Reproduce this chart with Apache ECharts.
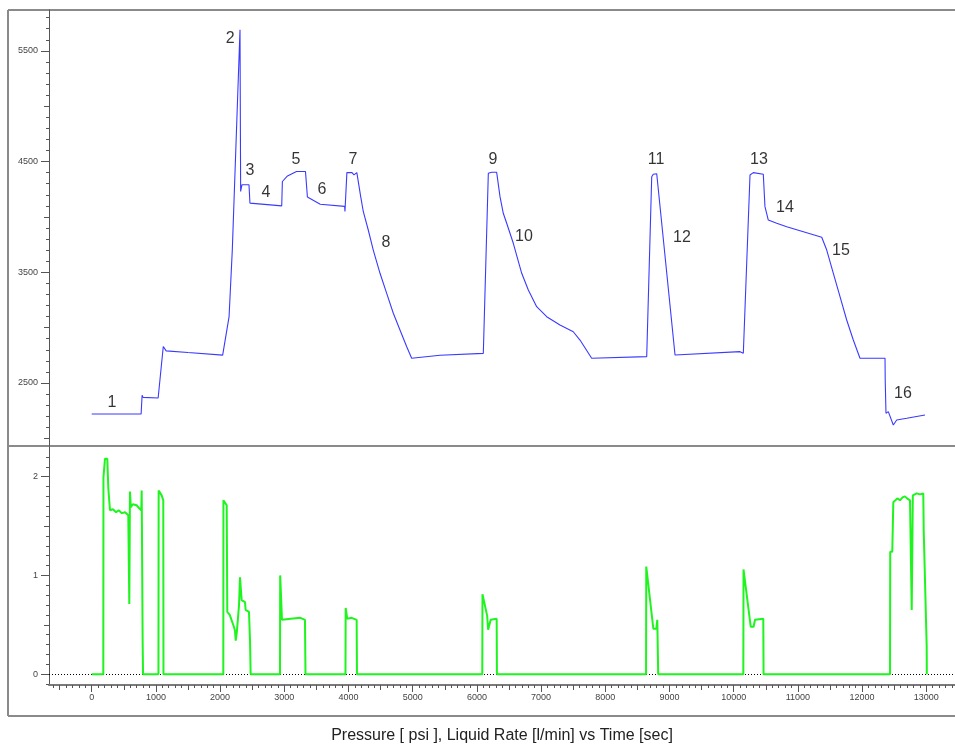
<!DOCTYPE html>
<html>
<head>
<meta charset="utf-8">
<script src="https://cdn.jsdelivr.net/npm/echarts@6/dist/echarts.min.js"></script>
<style>
html,body{margin:0;padding:0;background:#fff;}
#chart{width:955px;height:746px;}
</style>
</head>
<body>
<div id="chart"></div>
<script>
// ---- Pressure [psi] vs time [sec] ----
const pressureT = [0,770,785,800,1035,1115,1160,1500,2040,2050,2140,2190,2310,2320,2340,2450,2465,2960,2970,3050,3190,3330,3360,3560,3940,3945,3975,4055,4085,4130,4153,4190,4231,4308,4386,4491,4595,4698,4802,4907,4984,5425,6100,6178,6230,6308,6360,6411,6464,6567,6698,6801,6931,7087,7294,7501,7606,7788,8645,8723,8747,8801,8826,9086,10098,10150,10254,10305,10461,10487,10539,10670,10826,11085,11371,11449,11552,11656,11760,11863,11967,12357,12360,12372,12408,12486,12539,12695,12980];
const pressureP = [2220,2220,2390,2370,2365,2830,2790,2775,2752,2750,3100,3700,5690,4230,4290,4290,4125,4100,4320,4370,4410,4410,4180,4115,4095,4050,4400,4400,4380,4400,4394,4183,4047,3882,3701,3491,3310,3130,2979,2828,2723,2750,2768,4394,4403,4403,4183,4033,3943,3762,3491,3340,3189,3099,3024,2963,2888,2723,2738,4363,4385,4390,4385,2753,2783,2768,4379,4400,4385,4093,3972,3943,3912,3867,3816,3701,3491,3280,3069,2888,2723,2723,2527,2226,2241,2121,2166,2181,2211];

// ---- Liquid rate [l/min] vs time [sec] ----
const rateT = [0,181,183,207,243,259,285,330,380,420,470,520,570,586,596,610,640,700,740,772,779,790,794,800,1040,1043,1090,1115,1118,2050,2052,2103,2112,2150,2180,2215,2232,2243,2260,2284,2295,2310,2336,2388,2398,2450,2466,2476,2933,2936,2964,3100,3250,3322,3330,3953,3956,3981,4050,4127,4132,6084,6087,6160,6175,6200,6215,6308,6312,8635,8638,8748,8795,8810,8821,8824,10150,10153,10265,10310,10332,10461,10465,12435,12438,12470,12486,12512,12550,12590,12630,12668,12700,12746,12770,12773,12790,12850,12900,12953,12960,13006,13008];
const rateQ = [0,0,1.99,2.18,2.18,1.88,1.66,1.67,1.64,1.66,1.63,1.64,1.61,0.71,1.85,1.69,1.72,1.71,1.68,1.66,1.86,1.84,0.30,0,0,1.86,1.81,1.76,0,0,1.76,1.71,0.63,0.60,0.58,0.48,0.44,0.34,0.42,0.43,0.70,0.98,0.75,0.73,0.65,0.63,0.34,0,0,1.00,0.55,0.56,0.57,0.55,0,0,0.67,0.56,0.57,0.55,0,0,0.81,0.59,0.45,0.43,0.55,0.56,0,0,1.09,0.46,0.46,0.55,0.55,0,0,1.06,0.48,0.48,0.55,0.56,0,0,1.24,1.24,1.74,1.76,1.78,1.76,1.79,1.80,1.78,1.76,1.74,0.65,1.81,1.83,1.82,1.83,1.45,0.28,0];

// ---- Stage annotations ----
const stageText = ['1','2','3','4','5','6','7','8','9','10','11','12','13','14','15','16'];
const stageT = [316,2156,2466,2715,3182,3587,4070,4584,6251,6734,8790,9195,10394,10799,11670,12637];
const stageP = [2319,5607,4415,4216,4514,4243,4514,3765,4514,3819,4514,3810,4514,4081,3692,2400];

// ---- Axis ticks / labels ----
const xLabels = [0,1000,2000,3000,4000,5000,6000,7000,8000,9000,10000,11000,12000,13000];
const xMidTicks = [-500,500,1500,2500,3500,4500,5500,6500,7500,8500,9500,10500,11500,12500];
const xMinorTicks = []; for (let v = -600; v <= 13400; v += 100) xMinorTicks.push(v);
const pLabels = [2500,3500,4500,5500];
const pMidTicks = [2000,3000,4000,5000];
const pMinorTicks = []; for (let v = 2000; v <= 5800; v += 100) pMinorTicks.push(v);
const qLabels = [0,1,2];
const qMidTicks = [0.5,1.5];
const qMinorTicks = []; for (let i = -1; i <= 22; i++) qMinorTicks.push(i / 10);

const titleText = 'Pressure [ psi ], Liquid Rate [l/min] vs Time [sec]';

const X_MIN = -665, X_MAX = 13447;
const P_MIN = 1931, P_MAX = 5869;
const Q_MIN = -0.11, Q_MAX = 2.30;

const FONT = '"Liberation Sans", Arial, sans-serif';
const pressureData = pressureT.map((t,i)=>[t, pressureP[i]]);
const rateData = rateT.map((t,i)=>[t, rateQ[i]]);
const stageData = stageT.map((t,i)=>[t, stageP[i], stageText[i]]);

function labelCfg(labels, margin){
  return labels ? {show:true, customValues:labels, fontSize:9, color:'#444', fontFamily:FONT, margin:margin, formatter:(v)=>String(v)} : {show:false};
}
function xAx(grid, ticks, len, labels, line){
  return {
    type:'value', gridIndex:grid, min:X_MIN, max:X_MAX, position:'bottom',
    axisLine:{show:!!line, onZero:false, lineStyle:{color:'#7a7a7a', width:2}},
    axisTick:{show:true, customValues:ticks, length:len, lineStyle:{color:'#555', width:1}},
    axisLabel:labelCfg(labels, 8),
    splitLine:{show:false}
  };
}
function yAx(grid, mn, mx, ticks, len, labels, line){
  return {
    type:'value', gridIndex:grid, min:mn, max:mx, position:'left',
    axisLine:{show:!!line, onZero:false, lineStyle:{color:'#555', width:1}},
    axisTick:{show:true, customValues:ticks, length:len, lineStyle:{color:'#555', width:1}},
    axisLabel:labelCfg(labels, 11),
    splitLine:{show:false}
  };
}

const chart = echarts.init(document.getElementById('chart'), null, {renderer:'canvas'});
chart.setOption({
  animation:false,
  backgroundColor:'#fff',
  grid:[
    {left:49, top:10, width:906, height:436},
    {left:49, top:447, width:906, height:238}
  ],
  xAxis:[
    {type:'value', gridIndex:0, min:X_MIN, max:X_MAX, show:false},
    xAx(1, xLabels, 7, xLabels, true),
    xAx(1, xMidTicks, 5, null, false),
    xAx(1, xMinorTicks, 3, null, false)
  ],
  yAxis:[
    yAx(0, P_MIN, P_MAX, pLabels, 8, pLabels, true),
    yAx(0, P_MIN, P_MAX, pMidTicks, 5, null, false),
    yAx(0, P_MIN, P_MAX, pMinorTicks, 3, null, false),
    yAx(1, Q_MIN, Q_MAX, qLabels, 8, qLabels, true),
    yAx(1, Q_MIN, Q_MAX, qMidTicks, 5, null, false),
    yAx(1, Q_MIN, Q_MAX, qMinorTicks, 3, null, false)
  ],
  graphic:[
    {type:'line', shape:{x1:8,y1:10,x2:955,y2:10}, style:{stroke:'#8a8a8a', lineWidth:2}},
    {type:'line', shape:{x1:8,y1:10,x2:8,y2:716}, style:{stroke:'#8a8a8a', lineWidth:2}},
    {type:'line', shape:{x1:8,y1:446,x2:955,y2:446}, style:{stroke:'#8a8a8a', lineWidth:2}},
    {type:'line', shape:{x1:8,y1:716,x2:955,y2:716}, style:{stroke:'#8a8a8a', lineWidth:2}},
    {type:'text', x:502, y:736, style:{text:titleText, fill:'#222', font:'16px "Liberation Sans", Arial, sans-serif', textAlign:'center', textVerticalAlign:'middle'}}
  ],
  series:[
    {
      name:'Pressure', type:'line', xAxisIndex:0, yAxisIndex:0, data:pressureData,
      showSymbol:false, symbol:'none', lineStyle:{color:'#3a3aff', width:1.1}, z:3
    },
    {
      name:'Stages', type:'scatter', xAxisIndex:0, yAxisIndex:0, data:stageData,
      symbolSize:1, itemStyle:{color:'rgba(0,0,0,0)'}, z:4,
      label:{show:true, position:'inside', formatter:(p)=>p.value[2], fontSize:16, color:'#000', fontFamily:FONT}
    },
    {
      name:'Liquid Rate', type:'line', xAxisIndex:1, yAxisIndex:3, data:rateData,
      showSymbol:false, symbol:'none', lineStyle:{color:'#1ef51e', width:2}, z:3,
      markLine:{
        silent:true, symbol:'none', z:1, animation:false,
        label:{show:false},
        lineStyle:{type:[1,2], color:'#000', width:1},
        data:[{yAxis:0}]
      }
    }
  ]
});
</script>
</body>
</html>
